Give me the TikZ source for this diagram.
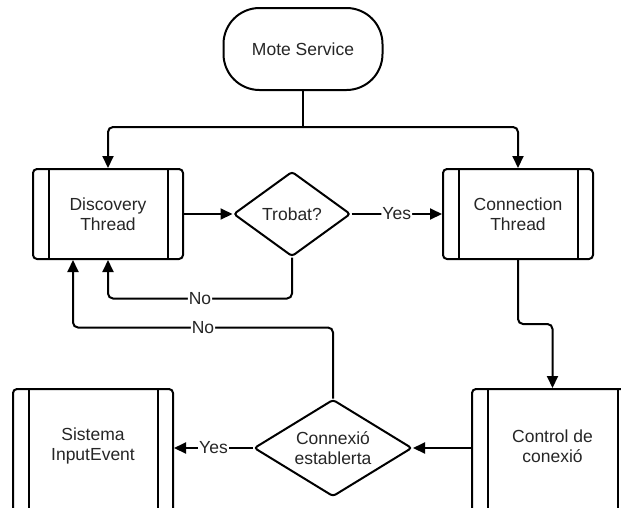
\documentclass[tikz,border=0pt]{standalone}
\usepackage{fontspec}
\setmainfont{Liberation Sans}
\usetikzlibrary{shapes.geometric,arrows.meta}
\begin{document}
\begin{tikzpicture}[x=1pt,y=-1pt,
  font=\fontsize{17.5}{20}\selectfont,
  line/.style={line width=2pt, draw=black, rounded corners=5pt},
  arr/.style={line, -{Triangle[length=12pt,width=11pt]}},
  lbl/.style={fill=white, inner sep=1pt, text=black!85},
  proc/.style={draw, line width=2pt, rounded corners=4pt, inner sep=0pt,
    align=center, text=black!85,
    path picture={
      \draw[line width=2pt] ([xshift=15.5pt]path picture bounding box.north west) -- ([xshift=15.5pt]path picture bounding box.south west);
      \draw[line width=2pt] ([xshift=-15.5pt]path picture bounding box.north east) -- ([xshift=-15.5pt]path picture bounding box.south east);
    }},
  decis/.style={diamond, draw, line width=2pt, inner sep=0pt, rounded corners=3pt,
    align=center, text=black!85},
  term/.style={draw, line width=2pt, rounded corners=36pt, inner sep=0pt,
    align=center, text=black!85}
]
\useasboundingbox (0,0) rectangle (621,507);
\clip (0,0) rectangle (621,507);
\fill[white] (0,0) rectangle (621,507);

\node[term, minimum width=159pt, minimum height=82pt] (mote) at (303,49) {Mote Service};
\node[proc, minimum width=150pt, minimum height=90pt] (disc) at (108,214) {Discovery\\Thread};
\node[decis, aspect=1.4, minimum width=117pt, minimum height=85pt] (trob) at (292,214) {Trobat?};
\node[proc, minimum width=150pt, minimum height=90pt] (conn) at (518,214) {Connection\\Thread};
\node[proc, minimum width=161pt, minimum height=124pt] (ctrl) at (552.5,451) {};
\node[text=black!85, align=center] (ctrltxt) at (552.5,446) {Control de\\conexió};
\node[decis, aspect=1.63, minimum width=158pt, minimum height=97pt] (dec) at (333,448) {Connexió\\establerta};
\node[proc, minimum width=160pt, minimum height=124pt] (sis) at (93,451) {};
\node[text=black!85, align=center] (sistxt) at (93,446) {Sistema\\InputEvent};

\coordinate (jn) at (303,127);
\draw[line] (mote.south) -- (jn);
\draw[arr] (jn) -| (disc.north);
\draw[arr] (jn) -| (conn.north);
\draw[arr] (disc.east) -- (trob.west);
\draw[arr] (trob.east) -- node[lbl]{Yes} (conn.west);
\draw[arr] (trob.south) -- ++(0,41) -| node[lbl, pos=0.25]{No} (disc.south);
\draw[arr] (conn.south) -- ++(0,64) -| (ctrl.north);
\draw[arr] (ctrl.west |- dec.east) -- (dec.east);
\draw[arr] (dec.west) -- node[lbl]{Yes} (dec.west -| sis.east);
\draw[arr] (dec.north) -- ++(0,-71) -| node[lbl, pos=0.25]{No} ([xshift=-35pt]disc.south);
\end{tikzpicture}
\end{document}
